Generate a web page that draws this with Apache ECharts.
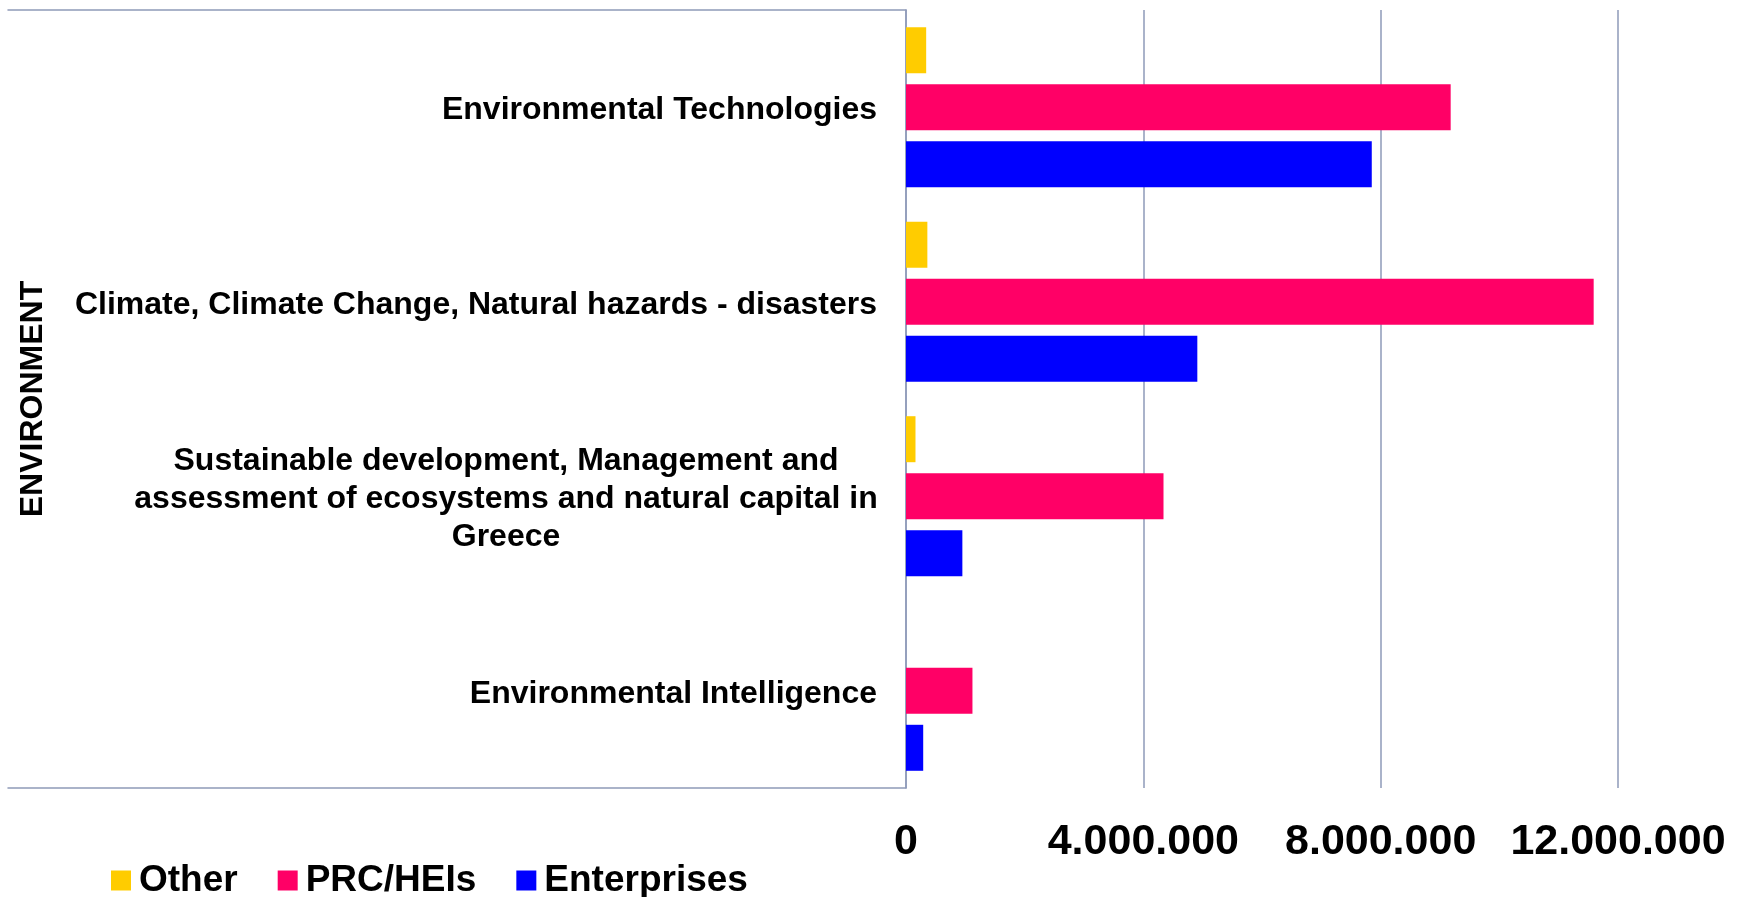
<!DOCTYPE html>
<html>
<head>
<meta charset="utf-8">
<script src="https://cdn.jsdelivr.net/npm/echarts@6/dist/echarts.min.js"></script>
<style>
html,body{margin:0;padding:0;background:#fff;}
#chart{width:1739px;height:897px;}
</style>
</head>
<body>
<div id="chart"></div>
<script>
const categories = [
  "Environmental Technologies",
  "Climate, Climate Change, Natural hazards - disasters",
  "Sustainable development, Management and\nassessment of ecosystems and natural capital in\nGreece",
  "Environmental Intelligence"
];
const groupLabel = "ENVIRONMENT";
const seriesNames = ["Other", "PRC/HEIs", "Enterprises"];
const otherValues = [340000, 360000, 160000, 0];
const prcValues = [9180000, 11590000, 4340000, 1120000];
const enterpriseValues = [7850000, 4910000, 950000, 290000];
const xTicks = [0, 4000000, 8000000, 12000000];

const colors = ["#FFCC00", "#FF0066", "#0000FF"];
const lineColor = "#8E9AB8";
const font = "Liberation Sans, Arial, sans-serif";

function fmt(v) {
  return String(v).replace(/\B(?=(\d{3})+(?!\d))/g, ".");
}

const chart = echarts.init(document.getElementById('chart'));
const option = {
  backgroundColor: '#fff',
  animation: false,
  textStyle: { fontFamily: font },
  legend: {
    left: 111,
    top: 862,
    padding: 0,
    itemWidth: 20,
    itemHeight: 20,
    itemGap: 40,
    icon: 'rect',
    data: seriesNames,
    textStyle: { fontSize: 37, fontWeight: 'bold', color: '#000', fontFamily: font, padding: [0, 0, 0, 3] }
  },
  grid: [
    { left: 906, right: 121, top: 10, bottom: 109, containLabel: false },
    { left: 8, width: 898, top: 10, bottom: 109, containLabel: false }
  ],
  xAxis: [
    {
      type: 'value', gridIndex: 0, min: xTicks[0], max: xTicks[xTicks.length - 1], interval: xTicks[1] - xTicks[0],
      axisLine: { show: false }, axisTick: { show: false },
      splitLine: { show: true, lineStyle: { color: lineColor, width: 1.5 } },
      axisLabel: { fontSize: 43, fontWeight: 'bold', color: '#000', fontFamily: font, margin: 33, formatter: fmt }
    },
    { type: 'value', gridIndex: 1, position: 'top', min: 0, max: 1,
      axisLine: { show: true, lineStyle: { color: lineColor, width: 1.5 } },
      axisTick: { show: false }, axisLabel: { show: false }, splitLine: { show: false } },
    { type: 'value', gridIndex: 1, position: 'bottom', min: 0, max: 1,
      axisLine: { show: true, lineStyle: { color: lineColor, width: 1.5 } },
      axisTick: { show: false }, axisLabel: { show: false }, splitLine: { show: false } }
  ],
  yAxis: [
    {
      type: 'category', gridIndex: 0, data: categories, inverse: true,
      axisLine: { show: true, lineStyle: { color: lineColor, width: 1.5 } },
      axisTick: { show: false },
      name: groupLabel, nameLocation: 'middle', nameRotate: 90, nameGap: 857,
      nameTextStyle: { fontSize: 32, fontWeight: 'bold', color: '#000', fontFamily: font },
      axisLabel: {
        margin: 29, color: '#000', fontSize: 32, fontWeight: 'bold', fontFamily: font, lineHeight: 38,
        padding: [6, 0, 0, 0],
        formatter: function (v) {
          if (v.indexOf('\n') < 0) return v;
          return v.split('\n').map(function (s) { return '{c|' + s + '}'; }).join('\n');
        },
        rich: { c: { width: 742, align: 'center', fontSize: 32, fontWeight: 'bold', lineHeight: 38, color: '#000', fontFamily: font } }
      }
    },
    { type: 'category', gridIndex: 1, data: categories, show: false }
  ],
  series: [
    { name: seriesNames[0], type: 'bar', xAxisIndex: 0, yAxisIndex: 0, data: otherValues, barWidth: 46, barGap: '24%', itemStyle: { color: colors[0] } },
    { name: seriesNames[1], type: 'bar', xAxisIndex: 0, yAxisIndex: 0, data: prcValues, barWidth: 46, barGap: '24%', itemStyle: { color: colors[1] } },
    { name: seriesNames[2], type: 'bar', xAxisIndex: 0, yAxisIndex: 0, data: enterpriseValues, barWidth: 46, barGap: '24%', itemStyle: { color: colors[2] } }
  ]
};
chart.setOption(option);
</script>
</body>
</html>
